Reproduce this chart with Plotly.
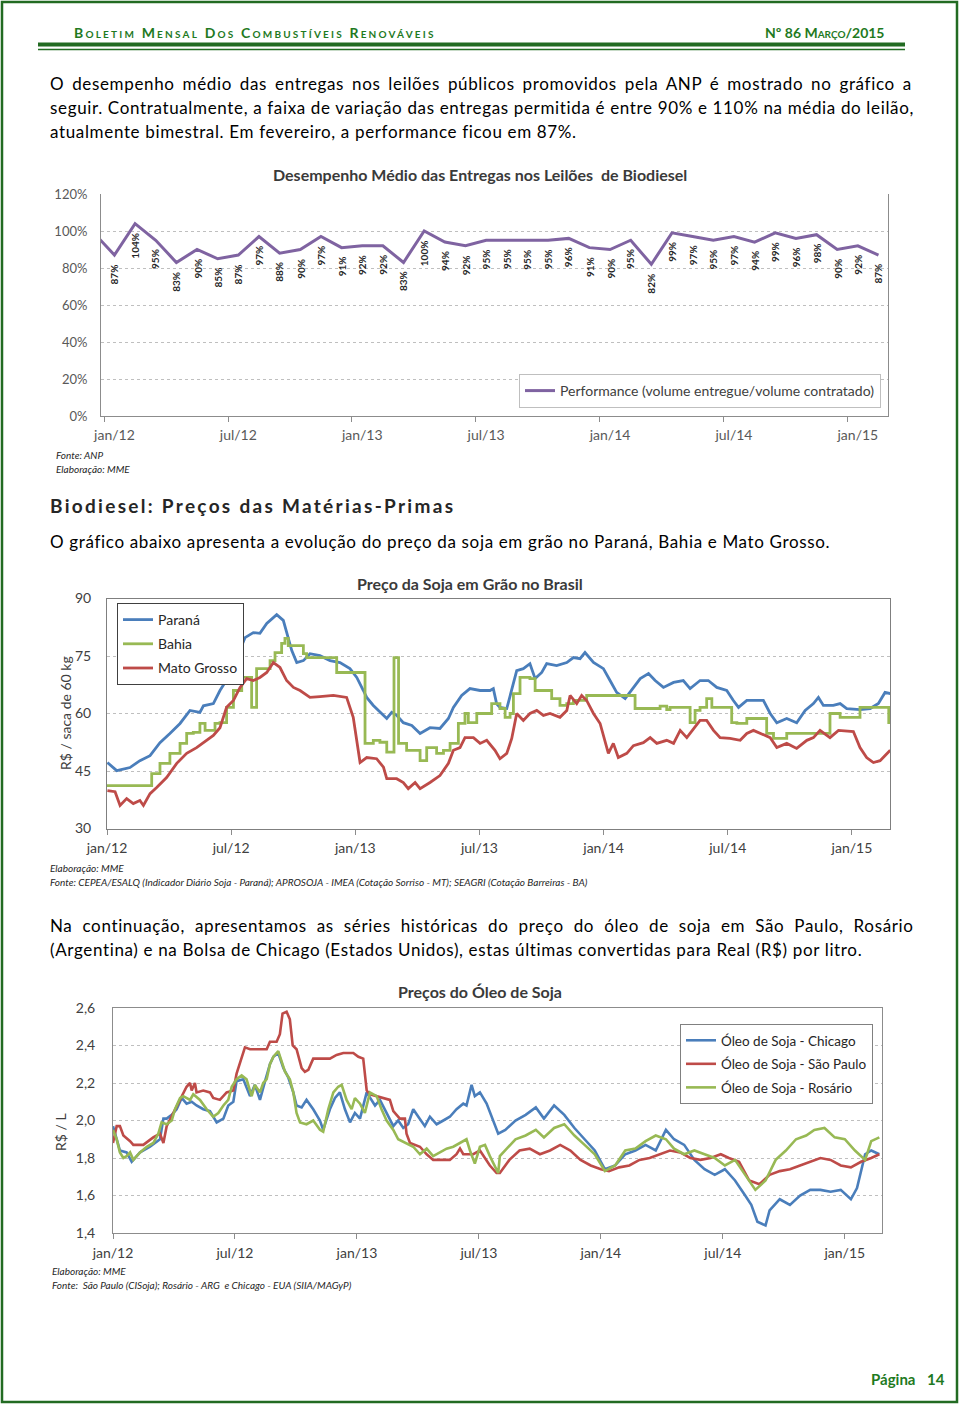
import plotly.graph_objects as go

# ---------------- DATA ----------------
# Chart 1: Desempenho médio das entregas (monthly, index 0 = jan/12; -1 = dez/11)
perf_month_index = list(range(-1, 38))
perf_values = [0.99, 0.87, 1.04, 0.95, 0.83, 0.90, 0.85, 0.87, 0.97, 0.88, 0.90, 0.97, 0.91,
               0.92, 0.92, 0.83, 1.00, 0.94, 0.92, 0.95, 0.95, 0.95, 0.95, 0.96, 0.91, 0.90,
               0.95, 0.82, 0.99, 0.97, 0.95, 0.97, 0.94, 0.99, 0.96, 0.98, 0.90, 0.92, 0.87]

month_ticks = [0, 6, 12, 18, 24, 30, 36]
month_tick_text = ["jan/12", "jul/12", "jan/13", "jul/13", "jan/14", "jul/14", "jan/15"]
month_boundaries = [-0.5, 5.5, 11.5, 17.5, 23.5, 29.5, 35.5]

perf_y_ticks = [0, 0.2, 0.4, 0.6, 0.8, 1.0, 1.2]

# Chart 2: Preço da soja em grão (R$/saca 60 kg); x in months since jan/12
parana_m = [0.02, 0.47, 1.11, 1.59, 2.08, 2.56, 3.04, 3.53, 4.01, 4.49,
            4.66, 5.14, 5.46, 5.86, 6.27, 6.67, 7.07, 7.39, 7.72, 8.20,
            8.52, 8.76, 8.93, 9.17, 9.49, 9.81, 10.29, 10.78, 11.26, 11.74,
            12.07, 12.39, 12.55, 12.87, 13.19, 13.52, 13.76, 14.00, 14.32, 14.73,
            15.13, 15.61, 16.09, 16.50, 16.74, 17.14, 17.54, 18.03, 18.51, 18.67,
            18.83, 18.99, 19.32, 19.56, 19.80, 20.12, 20.44, 20.69, 21.01, 21.25,
            21.73, 22.22, 22.54, 22.86, 23.10, 23.51, 23.99, 24.31, 24.63, 25.04,
            25.44, 25.77, 26.17, 26.49, 26.89, 27.38, 27.85, 28.18, 28.66, 29.06,
            29.47, 29.95, 30.27, 30.52, 30.92, 31.40, 31.72, 32.05, 32.37, 32.85,
            33.33, 33.74, 34.14, 34.38, 34.62, 35.10, 35.43, 35.75, 36.39, 36.88,
            37.28, 37.60, 37.85]
parana_v = [47.2, 45.1, 45.9, 47.7, 49.0, 52.4, 54.8, 57.4, 60.8, 60.3,
            62.0, 62.6, 66.0, 69.4, 74.6, 79.8, 81.1, 80.9, 83.5, 85.8,
            84.3, 79.8, 76.4, 73.3, 73.8, 75.6, 75.1, 73.8, 73.3, 71.7,
            69.4, 66.0, 64.2, 62.1, 60.3, 58.7, 60.3, 59.5, 57.6, 56.9,
            54.8, 56.3, 56.1, 58.7, 61.6, 64.7, 66.5, 66.0, 66.0, 66.5,
            62.5, 61.6, 61.3, 66.0, 71.2, 71.7, 73.0, 69.1, 70.7, 73.0,
            72.5, 73.3, 74.6, 74.3, 75.9, 73.3, 71.7, 68.6, 65.5, 63.9,
            66.8, 69.1, 70.4, 68.6, 66.8, 68.1, 68.6, 66.5, 68.6, 68.6,
            66.8, 66.0, 63.4, 61.6, 63.4, 63.4, 63.4, 60.0, 57.6, 58.7,
            57.6, 60.8, 62.6, 64.2, 62.1, 62.1, 62.6, 61.3, 61.0, 61.3,
            62.6, 65.5, 65.2]

bahia_m = [0.0, 2.16, 2.56, 3.04, 3.53, 3.85, 4.17, 4.49, 4.74, 5.22,
           5.46, 5.78, 6.11, 6.51, 6.99, 7.23, 7.88, 8.12, 8.44, 8.60,
           8.76, 9.49, 9.65, 11.10, 12.47, 12.87, 13.19, 13.52, 13.87, 14.09,
           14.48, 15.13, 15.45, 15.93, 16.26, 16.58, 16.98, 17.30, 17.46, 17.87,
           18.59, 18.99, 19.24, 19.48, 19.64, 19.96, 20.44, 20.69, 21.49, 21.89,
           22.22, 22.54, 23.18, 25.52, 26.73, 27.05, 27.21, 28.18, 28.42, 28.66,
           28.98, 29.23, 30.19, 30.44, 30.92, 31.88, 32.21, 32.85, 34.94, 35.43,
           36.39, 37.78, 37.85]
bahia_v = [41.2, 44.3, 47.0, 49.6, 52.2, 54.8, 55.1, 57.4, 55.6, 57.4,
           57.6, 61.6, 66.0, 69.4, 61.6, 71.7, 73.8, 75.9, 78.3, 79.6,
           77.7, 75.6, 74.6, 70.7, 52.2, 53.0, 52.5, 49.9, 74.6, 52.2,
           50.4, 47.7, 51.1, 49.6, 50.4, 52.2, 57.4, 60.0, 57.6, 60.0,
           62.6, 61.3, 59.0, 60.0, 65.2, 69.4, 69.1, 66.0, 63.9, 62.1,
           62.6, 63.4, 64.7, 61.3, 61.9, 61.0, 61.6, 57.6, 60.8, 61.6,
           63.9, 61.6, 57.6, 57.4, 58.7, 54.8, 53.5, 54.8, 60.0, 59.0,
           61.6, 57.6, 57.6]

mt_m = [0.02, 0.39, 0.63, 0.95, 1.27, 1.59, 1.76, 2.08, 2.40, 2.88,
        3.37, 3.85, 4.33, 4.82, 5.14, 5.46, 5.78, 6.11, 6.43, 6.75,
        7.07, 7.39, 7.72, 8.04, 8.36, 8.68, 9.01, 9.33, 9.81, 10.29,
        10.94, 11.58, 11.90, 12.23, 12.55, 13.03, 13.36, 13.52, 14.00, 14.32,
        14.56, 14.89, 15.13, 15.61, 16.09, 16.50, 16.74, 17.06, 17.30, 17.71,
        18.03, 18.35, 18.75, 18.99, 19.32, 19.56, 19.80, 20.12, 20.44, 20.77,
        21.09, 21.41, 21.89, 22.22, 22.38, 22.70, 22.94, 23.18, 23.51, 23.83,
        24.23, 24.47, 24.71, 25.12, 25.44, 25.92, 26.25, 26.57, 27.05, 27.38,
        27.70, 28.02, 28.34, 28.66, 28.98, 29.31, 29.63, 30.11, 30.60, 30.92,
        31.24, 31.56, 32.05, 32.37, 32.85, 33.33, 33.82, 34.14, 34.46, 34.94,
        35.35, 36.07, 36.39, 36.71, 37.04, 37.36, 37.85]
mt_v = [39.9, 39.6, 36.0, 37.8, 36.5, 37.3, 36.0, 39.1, 40.7, 43.3,
        47.0, 49.6, 51.1, 53.0, 54.3, 56.3, 61.6, 63.4, 66.8, 69.1,
        68.6, 69.4, 70.7, 73.3, 72.0, 68.6, 66.8, 66.0, 64.2, 64.4,
        64.7, 64.2, 59.0, 47.2, 48.5, 48.2, 46.0, 43.0, 43.0, 42.0,
        40.4, 42.0, 40.4, 42.0, 43.8, 47.0, 50.4, 51.1, 53.7, 53.7,
        52.2, 53.0, 50.4, 48.2, 49.6, 53.5, 60.0, 58.2, 60.0, 60.8,
        59.5, 60.0, 59.0, 60.8, 64.7, 62.6, 64.7, 63.4, 60.0, 57.4,
        49.6, 52.2, 48.5, 49.6, 51.6, 52.4, 53.7, 52.2, 53.0, 52.2,
        55.6, 53.7, 56.1, 58.2, 58.2, 55.6, 53.7, 53.5, 53.0, 54.8,
        55.6, 54.8, 53.7, 51.1, 52.2, 50.9, 53.0, 53.7, 55.6, 53.7,
        55.6, 55.3, 51.1, 48.5, 47.2, 47.7, 50.4]

soja_y_ticks = [30, 45, 60, 75, 90]

# Chart 3: Preços do óleo de soja (R$/L); x in months since jan/12
chicago_m = [0.00, 0.18, 0.34, 0.67, 0.92, 1.33, 1.82, 2.31, 2.48, 2.64,
             2.89, 3.13, 3.38, 3.62, 3.87, 4.11, 4.44, 4.77, 5.10, 5.43,
             5.67, 5.92, 6.08, 6.41, 6.74, 6.98, 7.23, 7.48, 7.72, 7.89,
             8.13, 8.38, 8.62, 8.87, 9.03, 9.28, 9.52, 9.85, 10.18, 10.34,
             10.67, 10.92, 11.16, 11.41, 11.66, 11.90, 12.15, 12.48, 12.72, 12.89,
             13.13, 13.46, 13.79, 14.03, 14.28, 14.52, 14.77, 15.02, 15.34, 15.59,
             15.92, 16.25, 16.57, 16.90, 17.23, 17.39, 17.64, 17.80, 18.05, 18.38,
             18.70, 18.95, 19.30, 19.80, 20.30, 20.80, 21.20, 21.70, 22.20, 22.70,
             23.20, 23.70, 24.20, 24.70, 25.20, 25.70, 26.20, 26.70, 27.20, 27.60,
             28.10, 28.60, 29.10, 29.60, 30.10, 30.60, 31.10, 31.40, 31.70, 32.10,
             32.30, 32.80, 33.30, 33.80, 34.30, 34.80, 35.30, 35.80, 36.30, 36.60,
             37.00, 37.30, 37.70]
chicago_v = [1.97, 1.90, 1.84, 1.83, 1.78, 1.83, 1.86, 1.90, 2.01, 2.01,
             2.03, 2.06, 2.12, 2.09, 2.10, 2.08, 2.06, 2.05, 1.99, 2.01,
             2.08, 2.10, 2.21, 2.22, 2.13, 2.19, 2.11, 2.21, 2.30, 2.34,
             2.36, 2.28, 2.23, 2.15, 2.08, 2.07, 2.11, 2.06, 2.00, 1.95,
             2.06, 2.12, 2.15, 2.06, 1.99, 2.04, 2.01, 2.15, 2.11, 2.08,
             2.11, 2.04, 1.97, 2.00, 1.96, 1.98, 2.06, 2.02, 1.97, 2.02,
             1.98, 2.00, 2.02, 2.06, 2.09, 2.08, 2.19, 2.13, 2.15, 2.09,
             2.00, 1.93, 1.95, 2.00, 2.03, 2.07, 2.01, 2.08, 2.03, 1.96,
             1.90, 1.84, 1.74, 1.76, 1.82, 1.84, 1.87, 1.84, 1.95, 1.90,
             1.87, 1.79, 1.74, 1.71, 1.74, 1.68, 1.60, 1.55, 1.46, 1.44,
             1.52, 1.58, 1.55, 1.60, 1.63, 1.63, 1.62, 1.63, 1.58, 1.64,
             1.82, 1.84, 1.82]

saopaulo_m = [0.00, 0.18, 0.34, 0.51, 0.84, 1.00, 1.49, 1.98, 2.31, 2.48,
              2.64, 2.97, 3.30, 3.62, 3.79, 3.87, 4.03, 4.11, 4.44, 4.77,
              4.93, 5.26, 5.59, 5.92, 6.08, 6.25, 6.49, 6.74, 7.07, 7.39,
              7.56, 7.72, 8.05, 8.21, 8.34, 8.54, 8.70, 8.84, 9.03, 9.28,
              9.44, 9.61, 9.85, 10.18, 10.67, 11.00, 11.33, 11.82, 12.07, 12.31,
              12.48, 12.64, 12.97, 13.30, 13.62, 13.79, 14.11, 14.36, 14.44, 14.61,
              15.10, 15.43, 15.75, 16.08, 16.57, 16.90, 17.07, 17.23, 17.72, 18.05,
              18.38, 18.54, 18.87, 19.03, 19.50, 20.00, 20.50, 21.00, 21.50, 22.00,
              22.50, 23.00, 23.50, 24.00, 24.40, 24.90, 25.40, 25.90, 26.40, 26.90,
              27.40, 27.90, 28.40, 28.90, 29.40, 29.90, 30.30, 30.80, 31.30, 31.80,
              32.30, 32.80, 33.30, 33.80, 34.30, 34.80, 35.30, 35.80, 36.30, 36.80,
              37.30, 37.70]
saopaulo_v = [1.88, 1.97, 1.97, 1.92, 1.89, 1.87, 1.87, 1.91, 1.93, 1.88,
              1.97, 2.04, 2.11, 2.18, 2.20, 2.16, 2.20, 2.15, 2.16, 2.15,
              2.12, 2.11, 2.15, 2.16, 2.25, 2.31, 2.39, 2.38, 2.38, 2.38,
              2.38, 2.42, 2.42, 2.46, 2.57, 2.58, 2.54, 2.40, 2.38, 2.28,
              2.26, 2.27, 2.33, 2.33, 2.33, 2.35, 2.36, 2.36, 2.34, 2.33,
              2.16, 2.14, 2.13, 2.12, 2.11, 2.05, 2.01, 2.01, 1.93, 1.88,
              1.86, 1.82, 1.79, 1.79, 1.79, 1.82, 1.85, 1.82, 1.82, 1.84,
              1.79, 1.76, 1.72, 1.72, 1.79, 1.84, 1.85, 1.82, 1.84, 1.87,
              1.84, 1.79, 1.76, 1.74, 1.73, 1.75, 1.76, 1.79, 1.80, 1.82,
              1.84, 1.83, 1.80, 1.79, 1.80, 1.82, 1.80, 1.78, 1.68, 1.66,
              1.71, 1.73, 1.74, 1.76, 1.78, 1.80, 1.79, 1.76, 1.75, 1.78,
              1.80, 1.82]

rosario_m = [0.00, 0.18, 0.34, 0.51, 0.67, 0.84, 1.00, 1.33, 1.66, 1.98,
             2.23, 2.39, 2.64, 2.89, 3.05, 3.30, 3.46, 3.79, 3.95, 4.28,
             4.61, 4.93, 5.18, 5.43, 5.67, 5.84, 6.08, 6.33, 6.57, 6.82,
             6.98, 7.23, 7.39, 7.56, 7.72, 7.89, 8.13, 8.30, 8.46, 8.70,
             8.87, 9.03, 9.20, 9.52, 9.85, 10.18, 10.34, 10.59, 10.84, 11.08,
             11.25, 11.49, 11.74, 11.90, 12.15, 12.39, 12.64, 12.97, 13.21, 13.46,
             13.79, 14.03, 14.44, 14.77, 15.10, 15.43, 15.75, 16.08, 16.41, 16.74,
             17.07, 17.39, 17.56, 17.80, 18.05, 18.30, 18.54, 18.79, 18.95, 19.03,
             19.30, 19.80, 20.30, 20.80, 21.20, 21.70, 22.20, 22.70, 23.20, 23.70,
             24.20, 24.70, 25.20, 25.70, 26.20, 26.70, 27.20, 27.60, 28.10, 28.60,
             29.10, 29.60, 30.10, 30.60, 31.10, 31.60, 32.10, 32.60, 33.10, 33.60,
             34.10, 34.50, 35.00, 35.50, 36.00, 36.50, 37.00, 37.30, 37.70]
rosario_v = [1.95, 1.90, 1.83, 1.80, 1.81, 1.83, 1.79, 1.83, 1.86, 1.88,
             1.93, 1.99, 1.98, 2.00, 2.06, 2.12, 2.13, 2.11, 2.14, 2.11,
             2.06, 2.02, 2.04, 2.08, 2.11, 2.18, 2.22, 2.24, 2.22, 2.13,
             2.19, 2.15, 2.20, 2.22, 2.30, 2.34, 2.37, 2.31, 2.26, 2.22,
             2.15, 2.04, 1.99, 1.98, 2.00, 1.95, 1.94, 2.06, 2.15, 2.18,
             2.19, 2.11, 2.06, 2.12, 2.09, 2.04, 2.15, 2.13, 2.06, 2.00,
             1.95, 1.90, 1.88, 1.86, 1.82, 1.85, 1.81, 1.83, 1.85, 1.86,
             1.88, 1.90, 1.84, 1.77, 1.86, 1.87, 1.81, 1.75, 1.72, 1.81,
             1.84, 1.90, 1.92, 1.95, 1.91, 1.96, 1.98, 1.92, 1.87, 1.82,
             1.73, 1.76, 1.84, 1.85, 1.89, 1.92, 1.90, 1.85, 1.82, 1.84,
             1.82, 1.80, 1.76, 1.79, 1.71, 1.63, 1.68, 1.79, 1.84, 1.90,
             1.92, 1.95, 1.96, 1.91, 1.90, 1.84, 1.79, 1.89, 1.91]

oleo_y_ticks = [1.4, 1.6, 1.8, 2.0, 2.2, 2.4, 2.6]
oleo_y_tick_text = ["1,4", "1,6", "1,8", "2,0", "2,2", "2,4", "2,6"]

# ---------------- STYLE ----------------
W, H = 960, 1409
FONT = "Lato"
GREEN_TXT = "#1F7A1F"
GREEN_LINE = "#226B22"
PURPLE = "#7F63A1"
BLUE = "#4A7EBB"
RED = "#BE4B48"
LGREEN = "#98B954"
GRID = "#BFBFBF"
AXIS = "#8C8C8C"


def px(x):
    return x / W


def py(y):
    return 1 - y / H


fig = go.Figure()

# Chart 1
fig.add_trace(go.Scatter(x=perf_month_index, y=perf_values, mode="lines",
                         line=dict(color=PURPLE, width=3),
                         name="Performance (volume entregue/volume contratado)",
                         xaxis="x", yaxis="y", legend="legend", hoverinfo="skip"))

# Chart 2
fig.add_trace(go.Scatter(x=parana_m, y=parana_v, mode="lines", name="Paraná", legendgroup="pr",
                         line=dict(color=BLUE, width=2.8), xaxis="x2", yaxis="y2",
                         legend="legend2", hoverinfo="skip"))
fig.add_trace(go.Scatter(x=bahia_m, y=bahia_v, mode="lines", name="Bahia", legendgroup="ba",
                         line=dict(color=LGREEN, width=2.8, shape="hv"), xaxis="x2", yaxis="y2",
                         legend="legend2", hoverinfo="skip"))
fig.add_trace(go.Scatter(x=mt_m, y=mt_v, mode="lines", name="Mato Grosso", legendgroup="mt",
                         line=dict(color=RED, width=2.8), xaxis="x2", yaxis="y2",
                         legend="legend2", hoverinfo="skip"))

# Chart 3
fig.add_trace(go.Scatter(x=chicago_m, y=chicago_v, mode="lines", name="Óleo de Soja - Chicago",
                         legendgroup="chi", line=dict(color=BLUE, width=2.6), xaxis="x3",
                         yaxis="y3", legend="legend3", hoverinfo="skip"))
fig.add_trace(go.Scatter(x=saopaulo_m, y=saopaulo_v, mode="lines", name="Óleo de Soja - São Paulo",
                         legendgroup="sp", line=dict(color=RED, width=2.6), xaxis="x3",
                         yaxis="y3", legend="legend3", hoverinfo="skip"))
fig.add_trace(go.Scatter(x=rosario_m, y=rosario_v, mode="lines", name="Óleo de Soja - Rosário",
                         legendgroup="ro", line=dict(color=LGREEN, width=2.6), xaxis="x3",
                         yaxis="y3", legend="legend3", hoverinfo="skip"))

annotations = []

# data labels of chart 1
for xi, v in zip(perf_month_index, perf_values):
    if xi < 0:
        continue
    annotations.append(dict(x=xi, y=v, xref="x", yref="y", text=f"{round(v * 100)}%",
                            textangle=-90, showarrow=False, xanchor="center", yanchor="top",
                            yshift=-7,
                            font=dict(family=FONT, size=10, color="#262626", weight="bold")))


def txt(x, y, text, size=17, color="#000000", xanchor="left", weight="normal",
        style="normal", variant="normal", angle=0):
    annotations.append(dict(x=px(x), y=py(y), xref="paper", yref="paper", text=text,
                            showarrow=False, xanchor=xanchor, yanchor="middle",
                            textangle=angle,
                            font=dict(family=FONT, size=size, color=color, weight=weight,
                                      style=style, variant=variant)))


def body(x, y, text, ls=0.65, ws=0.0):
    txt(x, y, f"<span style='letter-spacing:{ls}px;word-spacing:{ws}px'>{text}</span>")


# header
txt(72, 32, "<span style='letter-spacing:2.2px'>Boletim Mensal Dos Combustíveis Renováveis</span>",
    size=14, color=GREEN_TXT, weight="bold", variant="small-caps")
txt(887, 32, "Nº 86 Março/2015", size=14, color=GREEN_TXT, weight="bold",
    variant="small-caps", xanchor="right")

# paragraph 1
body(48, 83, "O desempenho médio das entregas nos leilões públicos promovidos pela ANP é mostrado no gráfico a", 0.65, 2.9)
body(48, 107, "seguir. Contratualmente, a faixa de variação das entregas permitida é entre 90% e 110% na média do leilão,", 0.65, 0.0)
body(48, 131, "atualmente bimestral. Em fevereiro, a performance ficou em 87%.")

# chart 1 title and sources
txt(480, 174, "Desempenho Médio das Entregas nos Leilões  de Biodiesel", size=16,
    color="#3A3A3A", weight="bold", xanchor="center")
txt(54, 455, "Fonte: ANP", size=10, color="#262626", style="italic")
txt(54, 469, "Elaboração: MME", size=10, color="#262626", style="italic")

# section heading
txt(48, 505, "<span style='letter-spacing:2.3px'>Biodiesel: Preços das Matérias-Primas</span>",
    size=19, color="#262626", weight="bold")
body(48, 541, "O gráfico abaixo apresenta a evolução do preço da soja em grão no Paraná, Bahia e Mato Grosso.")

# chart 2 title etc.
txt(470, 583, "Preço da Soja em Grão no Brasil", size=16, color="#3A3A3A", weight="bold",
    xanchor="center")
annotations.append(dict(x=px(65), y=py(713), xref="paper", yref="paper",
                        text="R$ / saca de 60 kg", showarrow=False, textangle=-90,
                        xanchor="center", yanchor="middle",
                        font=dict(family=FONT, size=14, color="#404040")))
txt(48, 868, "Elaboração: MME", size=10, color="#262626", style="italic")
txt(48, 882, "Fonte: CEPEA/ESALQ (Indicador Diário Soja - Paraná); APROSOJA - IMEA (Cotação Sorriso - MT); "
             "SEAGRI (Cotação Barreiras - BA)", size=10, color="#262626", style="italic")

# paragraph 3
body(48, 925, "Na continuação, apresentamos as séries históricas do preço do óleo de soja em São Paulo, Rosário", 0.65, 5.0)
body(48, 949, "(Argentina) e na Bolsa de Chicago (Estados Unidos), estas últimas convertidas para Real (R$) por litro.")

# chart 3 title etc.
txt(480, 991, "Preços do Óleo de Soja", size=16, color="#3A3A3A", weight="bold", xanchor="center")
annotations.append(dict(x=px(60), y=py(1132), xref="paper", yref="paper",
                        text="R$ / L", showarrow=False, textangle=-90,
                        xanchor="center", yanchor="middle",
                        font=dict(family=FONT, size=14, color="#404040")))
txt(50, 1271, "Elaboração: MME", size=10, color="#262626", style="italic")
txt(50, 1285, "Fonte:  São Paulo (CISoja); Rosário - ARG  e Chicago - EUA (SIIA/MAGyP)",
    size=10, color="#262626", style="italic")

# footer
txt(917, 1379, "Página", size=15, color=GREEN_TXT, weight="bold", xanchor="right")
txt(947, 1379, "14", size=15, color=GREEN_TXT, weight="bold", xanchor="right")

shapes = [
    dict(type="rect", xref="paper", yref="paper", x0=px(2), x1=px(957), y0=py(1402), y1=py(2),
         line=dict(color=GREEN_LINE, width=2.5)),
    dict(type="rect", xref="paper", yref="paper", x0=px(38), x1=px(905), y0=py(46.5), y1=py(42.5),
         line=dict(width=0), fillcolor=GREEN_LINE),
    dict(type="line", xref="paper", yref="paper", x0=px(38), x1=px(905), y0=py(49.5), y1=py(49.5),
         line=dict(color=GREEN_LINE, width=1.5)),
]

tick_font_1 = dict(family=FONT, size=14, color="#595959")
tick_font = dict(family=FONT, size=14, color="#404040")

fig.update_layout(
    width=W, height=H, margin=dict(l=0, r=0, t=0, b=0, pad=0, autoexpand=False),
    paper_bgcolor="white", plot_bgcolor="white",
    font=dict(family=FONT),
    showlegend=True,
    annotations=annotations, shapes=shapes,
    # chart 1
    xaxis=dict(domain=[px(101), px(888)], range=[-0.65, 37.46], anchor="y",
               tickmode="array", tickvals=month_ticks, ticktext=month_tick_text,
               ticks="", showgrid=False, zeroline=False, showline=True, linecolor=AXIS,
               linewidth=1, tickfont=tick_font_1, ticklabelstandoff=6, automargin=False,
               minor=dict(tickmode="array", tickvals=month_boundaries, ticks="outside",
                          ticklen=5, tickcolor=AXIS, showgrid=False)),
    yaxis=dict(domain=[py(416), py(194)], range=[0, 1.2], anchor="x",
               tickmode="array", tickvals=perf_y_ticks, tickformat=".0%",
               showgrid=True, gridcolor=GRID, griddash="dot", gridwidth=1, automargin=False,
               zeroline=False, showline=True, linecolor=AXIS, mirror=True, ticks="",
               tickfont=dict(family=FONT, size=13, color="#595959"), ticklabelstandoff=10),
    # chart 2
    xaxis2=dict(domain=[px(107), px(890)], range=[0, 37.84], anchor="y2",
                tickmode="array", tickvals=month_ticks, ticktext=month_tick_text,
                ticks="outside", ticklen=5, tickcolor=AXIS, showgrid=False, zeroline=False,
                showline=True, linecolor="#7F7F7F", mirror=True, tickfont=tick_font,
                ticklabelstandoff=2, automargin=False),
    yaxis2=dict(domain=[py(828.5), py(598.5)], range=[30, 90], anchor="x2",
                tickmode="array", tickvals=soja_y_ticks, automargin=False,
                showgrid=True, gridcolor=GRID, griddash="dot", zeroline=False,
                showline=True, linecolor="#7F7F7F", mirror=True, ticks="",
                tickfont=tick_font, ticklabelstandoff=12),
    # chart 3
    xaxis3=dict(domain=[px(113), px(882)], range=[0, 37.83], anchor="y3",
                tickmode="array", tickvals=month_ticks, ticktext=month_tick_text,
                ticks="outside", ticklen=5, tickcolor=AXIS, showgrid=False, zeroline=False,
                showline=True, linecolor="#8C8C8C", mirror=True, tickfont=tick_font,
                ticklabelstandoff=2, automargin=False),
    yaxis3=dict(domain=[py(1233), py(1008)], range=[1.4, 2.6], anchor="x3",
                tickmode="array", tickvals=oleo_y_ticks, ticktext=oleo_y_tick_text,
                showgrid=True, gridcolor=GRID, griddash="dot", zeroline=False,
                showline=True, linecolor="#8C8C8C", mirror=True, ticks="", automargin=False,
                tickfont=tick_font, ticklabelstandoff=14),
    legend=dict(x=px(881), y=py(374), xanchor="right", yanchor="top",
                bordercolor="#BFBFBF", borderwidth=1, bgcolor="white",
                font=dict(family=FONT, size=14, color="#404040"), tracegroupgap=0),
    legend2=dict(x=px(117), y=py(603), xanchor="left", yanchor="top",
                 bordercolor="#404040", borderwidth=1, bgcolor="white",
                 font=dict(family=FONT, size=14, color="#262626"), tracegroupgap=3,
                 traceorder="grouped"),
    legend3=dict(x=px(873), y=py(1024), xanchor="right", yanchor="top",
                 bordercolor="#808080", borderwidth=1, bgcolor="white",
                 font=dict(family=FONT, size=13.5, color="#262626"), tracegroupgap=3,
                 traceorder="grouped"),
)

fig.write_html("out.html",
               config={"displayModeBar": False},
               post_script="document.documentElement.style.margin='0';"
                           "document.body.style.margin='0';"
                           "document.body.style.overflow='hidden';")
